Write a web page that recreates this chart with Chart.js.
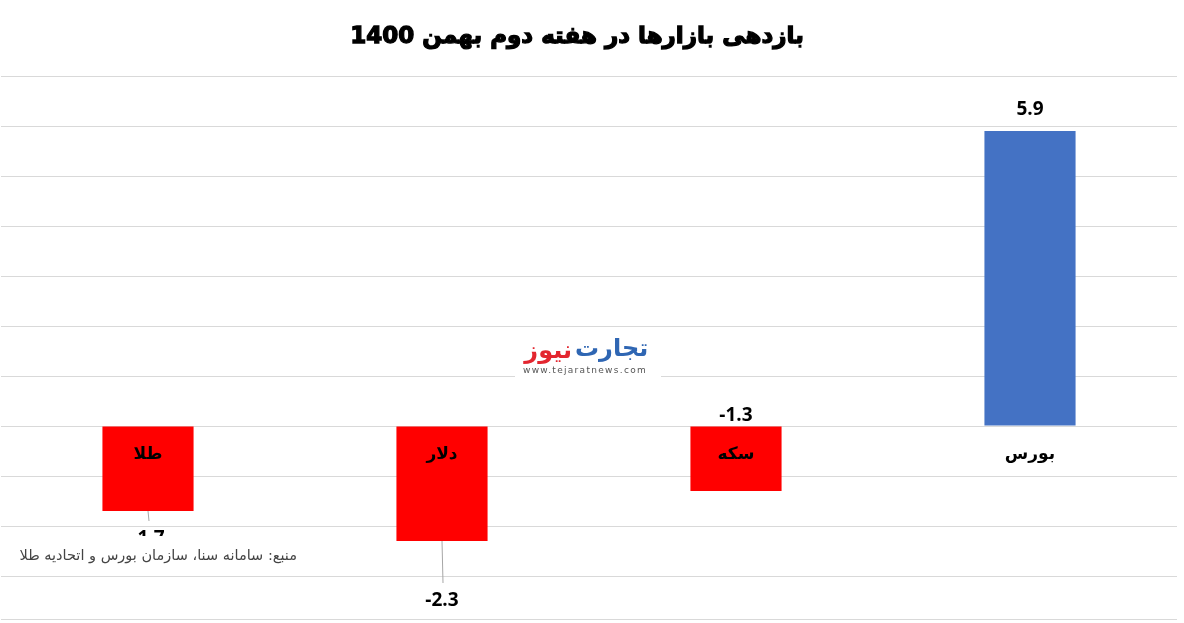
<!DOCTYPE html>
<html lang="fa">
<head>
  <meta charset="UTF-8" />
  <title>بازدهی بازارها</title>
  <script src="https://cdn.jsdelivr.net/npm/chart.js"></script>
  <style>
    body { margin: 0; background: #fff; }
    .wrap { width: 1184px; height: 623px; position: relative; }
  </style>
</head>
<body>
  <div class="wrap"><canvas id="chart"></canvas></div>

  <script>
    const categories = ['طلا', 'دلار', 'سکه', 'بورس'];
    const returns = [-1.7, -2.3, -1.3, 5.9];
    const barColors = ['#ff0000', '#ff0000', '#ff0000', '#4472c4'];
    const gridValues = [-3, -2, -1, 0, 1, 2, 3, 4, 5, 6, 7];

    // where each value label sits (Excel labels were moved by hand)
    const labelPlace = [
      { from: 'end', dy: 28, leader: true },
      { from: 'end', dy: 60, leader: true },
      { from: 'base', dy: -11 },
      { from: 'end', dy: -21 }
    ];

    const titleText = 'بازدهی بازارها در هفته دوم بهمن 1400';
    const sourceText = 'منبع: سامانه سنا، سازمان بورس و اتحادیه طلا';
    const arabicFont = '"DejaVu Sans", sans-serif';

    const overlay = {
      id: 'overlay',
      afterDatasetsDraw(chart) {
        const { ctx, chartArea, scales: { y } } = chart;
        const meta = chart.getDatasetMeta(0);
        const zero = y.getPixelForValue(0);
        ctx.save();

        // title (heavy look: fill + stroke)
        ctx.textAlign = 'center';
        ctx.textBaseline = 'middle';
        ctx.fillStyle = '#000';
        ctx.strokeStyle = '#000';
        ctx.lineWidth = 1.3;
        ctx.font = 'bold 23px ' + arabicFont;
        ctx.fillText(titleText, 577, 37);
        ctx.strokeText(titleText, 577, 37);

        // bottom axis line
        ctx.strokeStyle = '#d9d9d9';
        ctx.lineWidth = 1;
        ctx.beginPath();
        ctx.moveTo(chartArea.left, chartArea.bottom - 1.5);
        ctx.lineTo(chartArea.right, chartArea.bottom - 1.5);
        ctx.stroke();

        meta.data.forEach((bar, i) => {
          // category name just under the zero line
          ctx.fillStyle = '#000';
          ctx.font = 'bold 17px ' + arabicFont;
          ctx.fillText(categories[i], bar.x, zero + 29);

          const p = labelPlace[i];
          const ly = (p.from === 'base' ? bar.base : bar.y) + p.dy;
          if (p.leader) {
            ctx.strokeStyle = '#a6a6a6';
            ctx.beginPath();
            ctx.moveTo(bar.x, bar.y);
            ctx.lineTo(bar.x + 1, ly - 18);
            ctx.stroke();
          }
          ctx.font = 'bold 19px "Open Sans", sans-serif';
          ctx.fillText(returns[i].toFixed(1), bar.x, ly);
        });

        // source box
        ctx.fillStyle = '#fff';
        ctx.fillRect(0, 536, 306, 37);
        ctx.fillStyle = '#444';
        ctx.font = '14.5px ' + arabicFont;
        ctx.textAlign = 'right';
        ctx.direction = 'rtl';
        ctx.fillText(sourceText, 297, 556);

        // watermark logo
        const cx = (chartArea.left + chartArea.right) / 2;
        const cy = (chartArea.top + chartArea.bottom) / 2;
        ctx.fillStyle = '#fff';
        ctx.fillRect(cx - 74, cy - 20, 146, 50);
        ctx.direction = 'ltr';
        ctx.font = 'bold 24px ' + arabicFont;
        ctx.textAlign = 'left';
        ctx.fillStyle = '#2f66b3';
        ctx.fillText('تجارت', cx - 14, cy + 1);
        ctx.textAlign = 'right';
        ctx.fillStyle = '#e3262f';
        ctx.fillText('نیوز', cx - 17, cy + 3);
        ctx.textAlign = 'center';
        ctx.fillStyle = '#555';
        ctx.font = '9px "DejaVu Sans", sans-serif';
        ctx.letterSpacing = '1.3px';
        ctx.fillText('www.tejaratnews.com', cx - 4, cy + 22);
        ctx.restore();
      }
    };

    new Chart(document.getElementById('chart'), {
      type: 'bar',
      data: {
        labels: categories,
        datasets: [{
          data: returns,
          backgroundColor: barColors,
          borderWidth: 0,
          barPercentage: 1,
          categoryPercentage: 0.31
        }]
      },
      options: {
        responsive: true,
        maintainAspectRatio: false,
        animation: false,
        layout: { padding: { left: 1, right: 7, top: 76, bottom: 2 } },
        plugins: {
          legend: { display: false },
          tooltip: { enabled: false },
          title: { display: false }
        },
        scales: {
          x: { display: false },
          y: {
            min: -3.9,
            max: 7,
            afterBuildTicks: (axis) => { axis.ticks = gridValues.map(v => ({ value: v })); },
            ticks: { display: false },
            border: { display: false },
            grid: { color: '#d9d9d9', drawTicks: false }
          }
        }
      },
      plugins: [overlay]
    });
  </script>
</body>
</html>
